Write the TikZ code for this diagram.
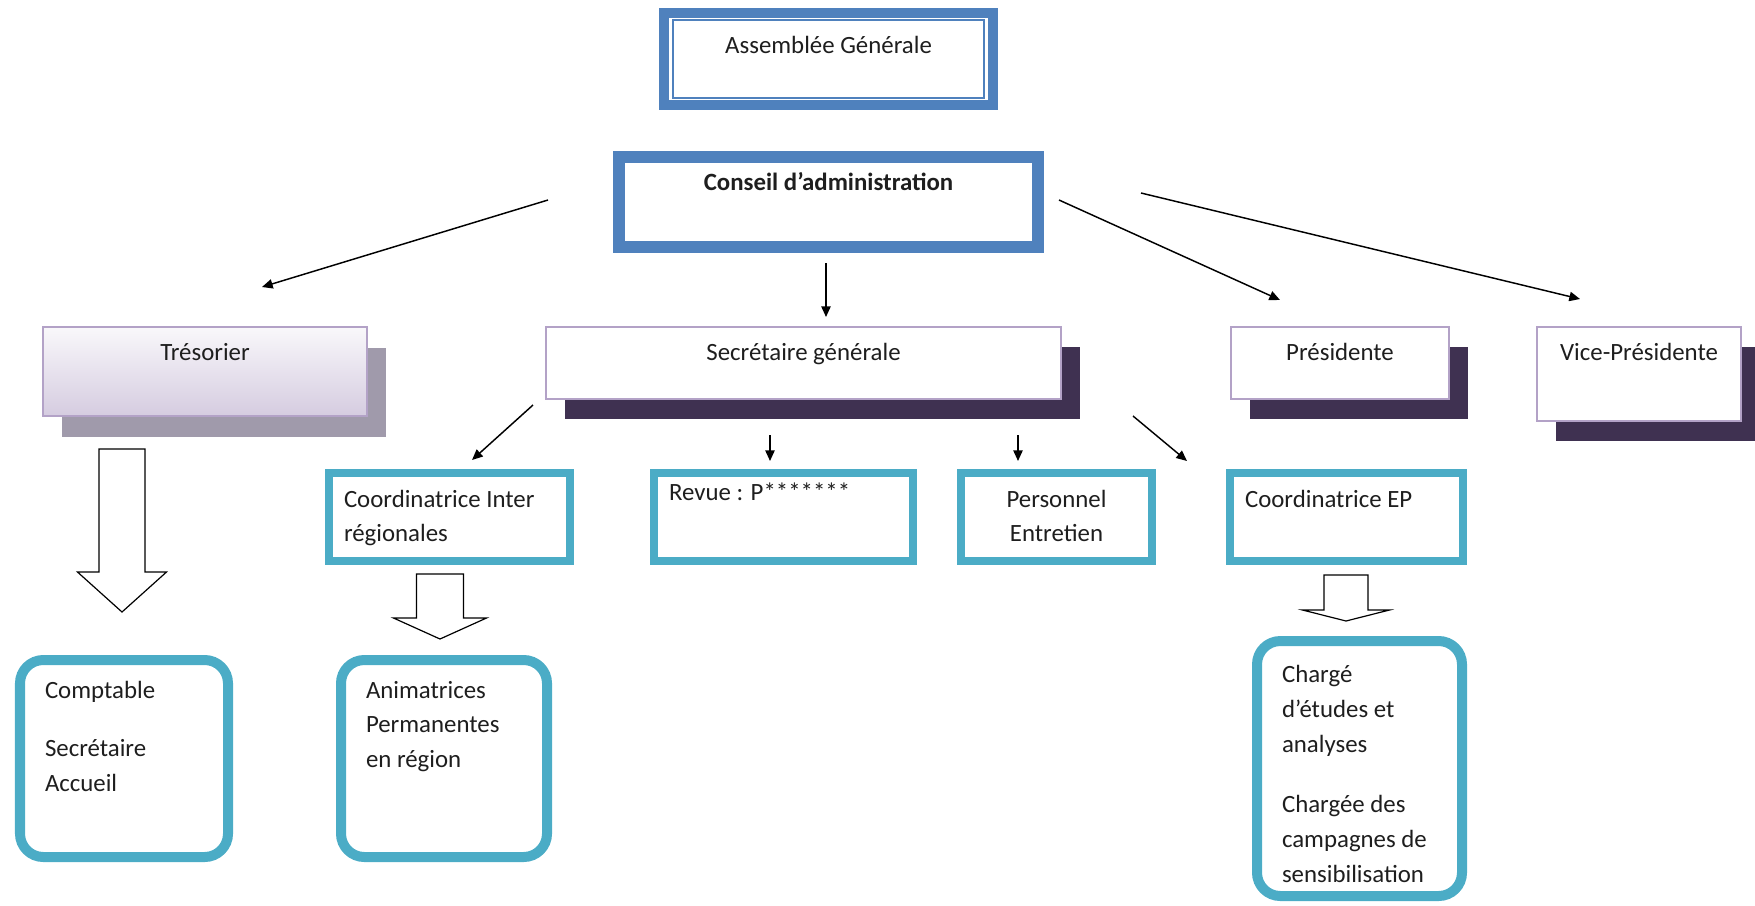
\documentclass[tikz,border=0pt]{standalone}
\usepackage{fontspec}
\setmainfont{Carlito}
\usetikzlibrary{arrows.meta,calc,shadows}

\definecolor{orgblue}{HTML}{4F81BD}
\definecolor{lavender}{HTML}{B3A2C7}
\definecolor{plum}{HTML}{3F3151}
\definecolor{greyplum}{HTML}{A09AAB}
\definecolor{teal}{HTML}{4BACC6}
\definecolor{ink}{HTML}{1E1E1E}

\tikzset{
  txt/.style={font=\fontsize{10.6}{14.9}\selectfont, text=ink, inner ysep=0pt, outer sep=0pt, anchor=north west},
  agbox/.style={txt, draw=orgblue, line width=0.22mm},
  cabox/.style={txt, draw=orgblue, line width=1.8mm, font=\fontsize{10.6}{14.9}\selectfont\bfseries},
  rolebox/.style={txt, draw=lavender, line width=0.4mm, fill=white,
    drop shadow={shadow xshift=2.9mm, shadow yshift=-3mm, opacity=1, fill=plum}},
  tresbox/.style={txt, draw=lavender, line width=0.3mm, top color=white!92!lavender, bottom color=lavender!55,
    drop shadow={shadow xshift=2.9mm, shadow yshift=-3.1mm, opacity=1, fill=greyplum}},
  tealbox/.style={txt, draw=teal, line width=1.1mm, inner xsep=2.25mm, align=flush left},
  roundbox/.style={txt, draw=teal, line width=1.5mm, rounded corners=3.5mm, inner xsep=3.75mm, align=flush left},
  arr/.style={draw=black, line width=0.22mm, -{Triangle[length=1.6mm,width=1.4mm]}},
  blockarrow/.style={draw=black, line width=0.18mm, fill=white, line join=miter}
}

% x, top, head base, tip / half shaft, half head
\def\bigarrow(#1,#2,#3,#4)(#5,#6){\draw[blockarrow] ({#1-#5},#2) -- ({#1+#5},#2) -- ({#1+#5},#3) -- ({#1+#6},#3) -- (#1,#4) -- ({#1-#6},#3) -- ({#1-#5},#3) -- cycle;}

\begin{document}
\begin{tikzpicture}[x=0.15mm, y=-0.15mm]
  \useasboundingbox (0,0) rectangle (1755,905);

  %%%%% top %%%%%
  \node[agbox, minimum width=46.65mm, text height=4.95mm, text depth=6.75mm] (ag) at (673,20) {Assemblée Générale};
  \draw[line width=1.5mm, draw=orgblue] ($(ag.north west)+(-9,-7)$) rectangle ($(ag.south east)+(9,7)$);

  \node[cabox, minimum width=62.85mm, text height=4.95mm, text depth=8.55mm] (ca) at (619,157) {Conseil d’administration};

  %%%%% second row %%%%%
  \node[tresbox, minimum width=48.6mm, text height=4.95mm, text depth=8.4mm] (tres) at (43,327) {Trésorier};
  \node[rolebox, minimum width=77.25mm, text height=4.95mm, text depth=5.85mm] (sg) at (546,327) {Secrétaire générale};
  \node[rolebox, minimum width=32.7mm, text height=4.95mm, text depth=5.85mm] (pres) at (1231,327) {Présidente};
  \node[rolebox, minimum width=30.6mm, text height=4.95mm, text depth=9.15mm] (vp) at (1537,327) {Vice-Présidente};

  %%%%% third row %%%%%
  \node[tealbox, text width=31.65mm, text height=5.1mm, text depth=8.1mm] (cir) at (329,473) {Coordinatrice Inter\\régionales};
  \node[tealbox, text width=34.35mm, text height=4.1mm, text depth=9.1mm] (revue) at (654,473) {Revue : P*******};
  \node[tealbox, align=flush center, text width=24.15mm, text height=5.1mm, text depth=8.1mm] (pers) at (961,473) {Personnel\\Entretien};
  \node[tealbox, text width=30.45mm, text height=5.1mm, text depth=8.1mm] (cep) at (1230,473) {Coordinatrice EP};

  %%%%% bottom %%%%%
  \node[roundbox, text width=23.7mm, text height=5.7mm, text depth=23.85mm] (compta) at (20,660) {Comptable\\[10pt]Secrétaire\\Accueil};
  \node[roundbox, text width=23.4mm, text height=5.7mm, text depth=23.85mm] (anim) at (341,660) {Animatrices\\Permanentes\\en région};
  \node[roundbox, text width=23.25mm, text height=6.2mm, text depth=32.05mm] (charge) at (1257,641) {Chargé\\d’études et\\analyses\\[11pt]Chargée des\\campagnes de\\sensibilisation};

  %%%%% arrows %%%%%
  \coordinate (ca-tres) at (548,200);   \coordinate (tres-in) at (262,287);
  \coordinate (ca-sg) at (826,263);     \coordinate (sg-in) at (826,317);
  \coordinate (ca-pres) at (1059,200);  \coordinate (pres-in) at (1280,300);
  \coordinate (ca-vp) at (1141,193);    \coordinate (vp-in) at (1580,299);
  \draw[arr] (ca-tres) -- (tres-in);
  \draw[arr] (ca-sg) -- (sg-in);
  \draw[arr] (ca-pres) -- (pres-in);
  \draw[arr] (ca-vp) -- (vp-in);

  \coordinate (sg-cir) at (533,405);    \coordinate (cir-in) at (472,460);
  \coordinate (sg-revue) at (770,435);  \coordinate (revue-in) at (770,461);
  \coordinate (sg-pers) at (1018,435);  \coordinate (pers-in) at (1018,461);
  \coordinate (sg-cep) at (1133,416);   \coordinate (cep-in) at (1187,461);
  \draw[arr] (sg-cir) -- (cir-in);
  \draw[arr] (sg-revue) -- (revue-in);
  \draw[arr] (sg-pers) -- (pers-in);
  \draw[arr] (sg-cep) -- (cep-in);

  \bigarrow(122,449,572,612)(23,44.5)
  \bigarrow(440,574,618,639)(23.5,46.5)
  \bigarrow(1346,575,610,621)(22,43.5)
\end{tikzpicture}
\end{document}
